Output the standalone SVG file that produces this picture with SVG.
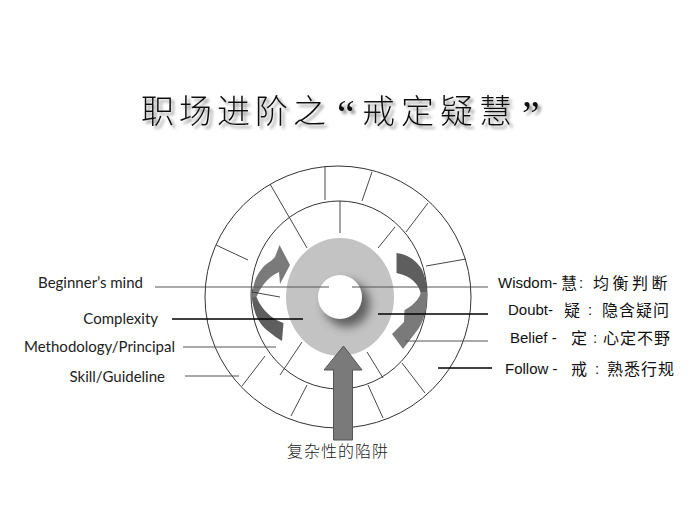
<svg xmlns="http://www.w3.org/2000/svg" width="690" height="518" viewBox="0 0 690 518">
<defs>
<style>
.ring{fill:none;stroke:#333;stroke-width:1}
.div{stroke:#333;stroke-width:0.9}
.lead{stroke:#555;stroke-width:1}
.leadk{stroke:#000;stroke-width:1.6}
.lbl{font-family:Lato,"Open Sans",sans-serif;font-size:15px;fill:#222}
.rl{font-family:"Liberation Sans",Arial,sans-serif;font-size:15px;fill:#111}
.cjk{font-family:"Noto Sans CJK SC","Noto Sans",sans-serif;font-size:16px;fill:#111}
.title{font-family:"Noto Sans CJK SC",sans-serif;font-size:33px;font-weight:300;fill:#111}
.q{font-family:"Liberation Serif",serif;font-size:40px;fill:#111}
.arLight{fill:#7a7a7a}
.arDark{fill:#5e5e5e}
</style>
<filter id="tshadow" x="-10%" y="-30%" width="120%" height="160%">
<feDropShadow dx="3" dy="3" stdDeviation="1.4" flood-color="#777" flood-opacity="0.8"/>
</filter>
<filter id="blur" x="-50%" y="-50%" width="200%" height="200%">
<feGaussianBlur stdDeviation="5"/>
</filter>
<clipPath id="discClip"><ellipse cx="340" cy="297" rx="54" ry="59"/></clipPath>
</defs>
<rect width="690" height="518" fill="#fff"/>

<g id="title" filter="url(#tshadow)">
<text class="title" x="141" y="123" letter-spacing="5">职场进阶之</text>
<text class="q" x="337" y="128">“</text>
<text class="title" x="362" y="123" letter-spacing="6">戒定疑慧</text>
<text class="q" x="522" y="128">”</text>
</g>

<g id="rings">
<ellipse class="ring" cx="338" cy="297" rx="133" ry="131"/>
<ellipse class="ring" cx="339" cy="295" rx="88" ry="94"/>
<line class="div" x1="325" y1="166" x2="325" y2="200"/>
<line class="div" x1="270" y1="184" x2="307" y2="248"/>
<line class="div" x1="216" y1="245" x2="248" y2="260"/>
<line class="div" x1="372" y1="172" x2="362" y2="201"/>
<line class="div" x1="428" y1="203" x2="406" y2="232"/>
<line class="div" x1="466" y1="259" x2="426" y2="266"/>
<line class="div" x1="265" y1="356" x2="242" y2="386"/>
<line class="div" x1="307" y1="385" x2="291" y2="416"/>
<line class="div" x1="368" y1="385" x2="383" y2="418"/>
<line class="div" x1="402" y1="363" x2="425" y2="393"/>
<line class="div" x1="340" y1="201" x2="340" y2="233" stroke-width="1.4"/>
<line class="div" x1="395" y1="227" x2="378" y2="248"/>
<line class="div" x1="302" y1="342" x2="280" y2="375"/>
<line class="div" x1="367" y1="352" x2="383" y2="378"/>
</g>

<g id="core">
<ellipse cx="340" cy="297" rx="54" ry="59" fill="#c3c3c3"/>
<g clip-path="url(#discClip)">
<circle cx="347" cy="304" r="23" fill="#505050" filter="url(#blur)" opacity="0.85"/>
</g>
<circle cx="340" cy="297" r="22" fill="#fff"/>
</g>

<g id="arrow-left">
<path class="arDark" d="M251.5,288 C251,305 256,322 268,331 C273,335 277,338 282,341 L283.5,323 C275,320 266,314 260,304 C257,299 255.5,295 255,290 Z"/>
<path class="arLight" d="M252.5,298 C252,284 258,268 271,261 L275,257 L279.5,245 L290,265 L280,284 L279,272 C270,276 262,284 257,296 Z"/>
</g>

<g id="arrow-right">
<path class="arDark" d="M396.5,253 C406,254 415,259 421,268 C425,275 427,284 427,296 L421,294 C419,285 412,276 396.5,273 Z"/>
<path class="arLight" d="M427,292 C427.5,306 425,318 419,328 L403,349 L392,334 L404,322 L404.5,310 C412,306 419,300 421,292 Z"/>
</g>

<g id="arrow-up">
<path d="M343.5,346 L362,370 L352.5,370 L352.5,440 L333.5,440 L333.5,370 L324,370 Z" fill="#7a7a7a" stroke="#555" stroke-width="1"/>
</g>

<g id="connectors">
<line class="lead" x1="155" y1="287" x2="329" y2="287"/>
<line class="leadk" x1="172" y1="319" x2="303" y2="319"/>
<line class="lead" x1="183" y1="347" x2="276" y2="347"/>
<line class="lead" x1="185" y1="376" x2="239" y2="376"/>
<line class="div" x1="252" y1="292" x2="280" y2="297"/>
<line class="lead" x1="352" y1="287" x2="488" y2="287"/>
<line class="leadk" x1="378" y1="314" x2="488" y2="314"/>
<line class="lead" x1="405" y1="341" x2="488" y2="341"/>
<line class="leadk" x1="438" y1="368" x2="492" y2="368"/>
</g>

<g id="labels-left">
<text class="lbl" x="143" y="288" text-anchor="end">Beginner’s mind</text>
<text class="lbl" x="158" y="324" text-anchor="end">Complexity</text>
<text class="lbl" x="175" y="352" text-anchor="end">Methodology/Principal</text>
<text class="lbl" x="165" y="382" text-anchor="end">Skill/Guideline</text>
</g>

<g id="labels-right">
<text class="rl" x="498" y="288">Wisdom-</text><text class="cjk" x="561" y="289">慧</text><text class="rl" x="579" y="288">:</text><text class="cjk" x="593" y="289" letter-spacing="3.5">均衡判断</text>
<text class="rl" x="508" y="315">Doubt-</text><text class="cjk" x="564" y="316">疑</text><text class="rl" x="588" y="315">:</text><text class="cjk" x="602" y="316" letter-spacing="1">隐含疑问</text>
<text class="rl" x="510" y="343">Belief -</text><text class="cjk" x="571" y="344">定</text><text class="rl" x="593" y="343">:</text><text class="cjk" x="603" y="344" letter-spacing="1">心定不野</text>
<text class="rl" x="505" y="374">Follow -</text><text class="cjk" x="571" y="375">戒</text><text class="rl" x="595" y="374">:</text><text class="cjk" x="607" y="375" letter-spacing="1">熟悉行规</text>
</g>

<g id="caption">
<text class="cjk" x="287" y="457" style="font-size:16px;fill:#222;font-weight:300" letter-spacing="1">复杂性的陷阱</text>
</g>
</svg>
